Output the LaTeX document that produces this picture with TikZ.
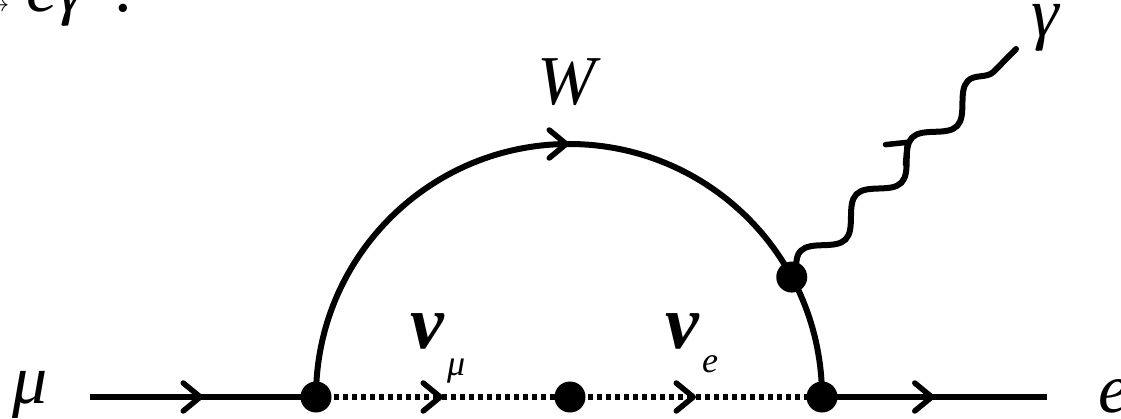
\documentclass[tikz,border=0pt]{standalone}
\usepackage{fontspec}
\setmainfont{Liberation Serif}
\usetikzlibrary{calc, arrows.meta, decorations.markings, decorations.pathmorphing}

\begin{document}
\begin{tikzpicture}[x=1pt, y=1pt,
    >={Straight Barb[length=17pt, width=28pt, line width=5.5pt, round]},
    vtx/.style={circle, fill=black, inner sep=0pt, minimum size=31pt},
    prop/.style={line width=6pt},
    nuprop/.style={line width=6pt, dash pattern=on 5pt off 4pt},
    photon/.style={line width=6pt, line cap=round, decorate,
      decoration={snake, segment length=79.5pt, amplitude=12pt}},
    midarrow/.style={postaction={decorate, decoration={markings,
      mark=at position #1 with {\arrow{>}}}}},
    lbl/.style={inner sep=0pt, anchor=base west, font=\fontsize{70}{74}\selectfont\itshape},
    nulbl/.style={inner sep=0pt, anchor=base west, font=\fontsize{76}{80}\selectfont\bfseries\itshape},
    sublbl/.style={inner sep=0pt, anchor=base west, font=\fontsize{36}{40}\selectfont\itshape},
  ]
    \useasboundingbox (0,0) rectangle (1121,418);

    % vertices
    \coordinate (ctr) at (569,21);
    \node[vtx] (v1) at (316,21) {};
    \node[vtx] (v2) at (570,21) {};
    \node[vtx] (v3) at (822,21) {};
    \node[vtx] (vg) at ($(ctr)+(28.3:253pt)$) {};
    \coordinate (mustart) at (90,21);
    \coordinate (eend) at (1047,21);
    \coordinate (gend) at (1016,369);

    % fermion lines
    \draw[prop, midarrow=0.5] (mustart) -- (v1.center);
    \draw[prop, midarrow=0.5] (v3.center) -- (eend);
    \draw[nuprop, midarrow=0.5] (v1.center) -- (v2.center);
    \draw[nuprop, midarrow=0.5] (v2.center) -- (v3.center);
    % W loop
    \draw[prop, midarrow=0.5] (v1.center) arc[start angle=180, end angle=0, radius=253pt];
    % photon
    \draw[photon] (vg.center) -- (gend);
    \path[postaction={decorate, decoration={markings,
      mark=at position 0.5625 with {\pgftransformyshift{12pt}\arrow{>}}}}] (vg.center) -- (gend);

    % labels
    \node[lbl, anchor=base east] (title) at (138,406) {μ $\rightarrow$ eγ\, :};
    \node[lbl] (mulbl) at (12,15) {μ};
    \node[lbl] (elbl) at (1098,6) {e};
    \node[lbl] (glbl) at (1031,381) {γ};
    \node[lbl] (wlbl) at (537,313) {W};
    \node[nulbl] (numu) at (410,70) {ν};
    \node[sublbl] (numusub) at (447,43) {μ};
    \node[nulbl] (nue) at (665,70) {ν};
    \node[sublbl] (nuesub) at (702,46) {e};
  \end{tikzpicture}
\end{document}
